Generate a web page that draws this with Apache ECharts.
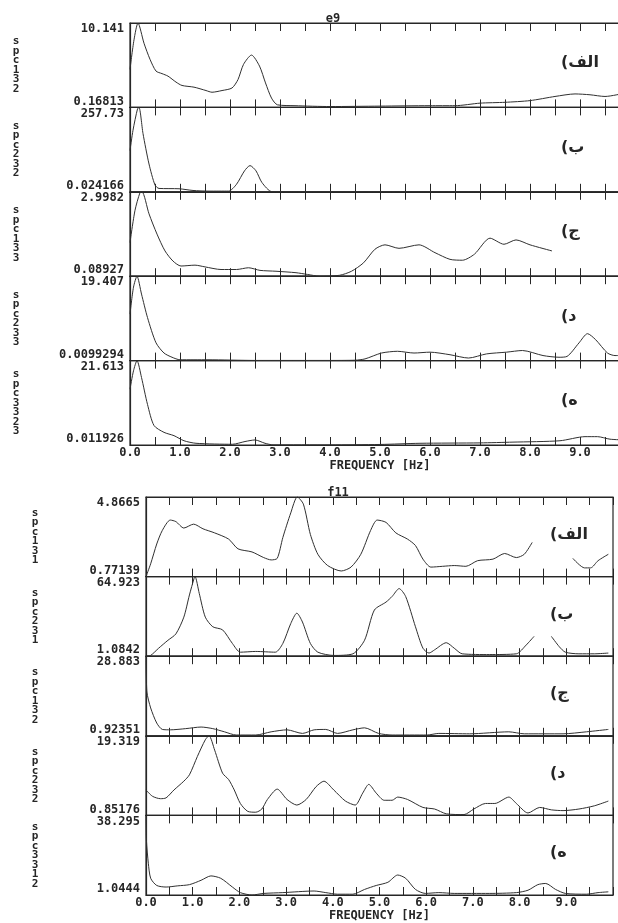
<!DOCTYPE html>
<html>
<head>
<meta charset="utf-8">
<script src="https://cdn.jsdelivr.net/npm/echarts@6/dist/echarts.min.js"></script>
<style>
  html, body { margin: 0; padding: 0; background: #fff; }
  #main { width: 618px; height: 923px; }
</style>
</head>
<body>
<div id="main"></div>
<script>
// group titles and panel texts
var groupTitles = ['e9', 'f11'];
var namesE9 = ['spc132', 'spc232', 'spc133', 'spc233', 'spc3323'];
var namesF11 = ['spc131', 'spc231', 'spc132', 'spc232', 'spc3312'];
var panelTags = ['(الف', '(ب', '(ج', '(د', '(ه'];
var xAxisName = 'FREQUENCY [Hz]';
var xTickLabels = ['0.0', '1.0', '2.0', '3.0', '4.0', '5.0', '6.0', '7.0', '8.0', '9.0'];

// y axis min / max labels, as printed
var yMaxE9 = ['10.141', '257.73', '2.9982', '19.407', '21.613'];
var yMinE9 = ['0.16813', '0.024166', '0.08927', '0.0099294', '0.011926'];
var yMaxF11 = ['4.8665', '64.923', '28.883', '19.319', '38.295'];
var yMinF11 = ['0.77139', '1.0842', '0.92351', '0.85176', '1.0444'];

// spectra, [frequency Hz, value]
var e9Spc132 = [[0,4.66],[0.08,8.15],[0.16,10.14],[0.28,7.75],[0.4,5.85],[0.52,4.46],[0.64,4.16],[0.76,3.86],[0.92,3.16],[1.04,2.76],[1.28,2.56],[1.52,2.16],[1.64,1.96],[1.84,2.16],[2.04,2.46],[2.16,3.46],[2.27,5.25],[2.43,6.35],[2.59,5.05],[2.71,3.06],[2.83,1.27],[2.95,0.47],[3.3,0.37],[4.0,0.27],[5.0,0.32],[6.0,0.37],[6.5,0.37],[7.0,0.67],[7.5,0.77],[8.0,0.97],[8.5,1.46],[8.9,1.76],[9.2,1.66],[9.5,1.46],[9.9,1.86]];
var e9Spc232 = [[0,126],[0.06,188],[0.15,253],[0.18,257.7],[0.26,178],[0.38,85],[0.5,20.6],[0.58,10.3],[0.98,9.3],[1.26,4.1],[1.58,2.1],[1.97,2.1],[2.13,23],[2.29,64],[2.4,80],[2.52,64],[2.64,28],[2.84,0.5],[3.5,0.1],[5.0,0.3],[6.0,0.2],[7.0,0.2],[8.0,0.5],[9.0,0.5],[9.9,0.4]];
var e9Spc133 = [[0,1.25],[0.1,2.36],[0.2,2.97],[0.24,3.0],[0.38,2.24],[0.54,1.54],[0.7,0.96],[0.86,0.61],[1.02,0.44],[1.3,0.47],[1.5,0.41],[1.82,0.32],[2.13,0.32],[2.37,0.38],[2.6,0.29],[2.92,0.26],[3.32,0.21],[3.55,0.15],[3.79,0.09],[4.19,0.12],[4.43,0.26],[4.67,0.55],[4.9,1.02],[5.1,1.17],[5.38,1.05],[5.78,1.17],[6.1,0.9],[6.4,0.67],[6.65,0.64],[6.89,0.85],[7.2,1.4],[7.48,1.19],[7.72,1.34],[8.0,1.17],[8.44,0.96]];
var e9Spc233 = [[0,10.7],[0.07,16.9],[0.14,19.4],[0.23,15.3],[0.35,9.9],[0.52,4.1],[0.68,1.75],[0.84,0.78],[1.0,0.2],[1.56,0.2],[2.5,0.05],[4.0,0.05],[4.5,0.1],[4.7,0.4],[5.03,1.75],[5.35,2.15],[5.68,1.75],[6.0,1.95],[6.4,1.36],[6.77,0.6],[7.13,1.55],[7.53,1.95],[7.85,2.33],[8.26,1.17],[8.58,0.78],[8.74,0.97],[8.98,4.08],[9.15,6.2],[9.31,4.85],[9.55,1.75],[9.7,1.17],[9.9,1.17]];
var e9Spc3323 = [[0,14.3],[0.07,19.0],[0.14,21.6],[0.23,17.3],[0.35,10.4],[0.48,5.0],[0.68,3.25],[0.88,2.4],[1.08,1.1],[1.32,0.45],[2.05,0.2],[2.3,0.9],[2.5,1.3],[2.7,0.45],[2.86,0.05],[4.0,0.05],[5.0,0.15],[5.8,0.45],[7.0,0.55],[7.66,0.75],[8.6,1.1],[9.1,2.15],[9.35,2.15],[9.6,1.5],[9.9,1.3]];

var f11Spc131 = [[0,0.77],[0.1,1.43],[0.23,2.45],[0.35,3.15],[0.52,3.68],[0.64,3.6],[0.81,3.27],[1.02,3.47],[1.22,3.23],[1.47,3.02],[1.77,2.7],[1.97,2.2],[2.27,2.04],[2.52,1.75],[2.68,1.63],[2.81,1.71],[2.93,2.78],[3.1,4.05],[3.24,4.87],[3.37,4.5],[3.52,2.94],[3.68,1.92],[3.89,1.34],[4.18,1.06],[4.39,1.26],[4.6,1.92],[4.81,3.15],[4.95,3.68],[5.14,3.56],[5.35,3.02],[5.6,2.7],[5.77,2.37],[5.93,1.67],[6.1,1.26],[6.35,1.3],[6.6,1.34],[6.85,1.3],[7.1,1.59],[7.43,1.67],[7.68,1.96],[7.93,1.75],[8.1,1.92],[8.27,2.53],[8.7,null],[9.14,1.71],[9.39,1.22],[9.52,1.22],[9.68,1.59],[9.9,1.92]];
var f11Spc231 = [[0,1.08],[0.1,1.72],[0.27,7.47],[0.47,13.85],[0.64,18.96],[0.81,32.4],[0.93,50.2],[1.03,63.6],[1.05,64.9],[1.14,51.5],[1.27,32.4],[1.43,24.7],[1.64,22.2],[1.85,11.3],[2.02,4.3],[2.35,4.9],[2.77,4.3],[2.93,11.3],[3.1,27.3],[3.23,35.6],[3.35,28.5],[3.52,11.3],[3.68,4.3],[4.02,1.7],[4.43,3.0],[4.68,13.9],[4.89,38.1],[5.14,44.5],[5.27,49.0],[5.42,55.3],[5.56,49.0],[5.77,24.7],[5.93,7.5],[6.06,3.6],[6.18,6.2],[6.43,11.9],[6.6,7.5],[6.77,3.0],[7.35,2.4],[7.93,3.0],[8.14,10.0],[8.31,17.0],[8.5,null],[8.68,17.0],[8.85,8.7],[8.98,4.3],[9.27,3.0],[9.6,3.0],[9.9,3.6]];
var f11Spc132 = [[0,28.88],[0.02,16.3],[0.1,10.7],[0.23,5.4],[0.35,3.16],[0.52,3.02],[0.85,3.44],[1.18,4.0],[1.43,3.44],[1.68,2.32],[1.93,1.2],[2.35,1.2],[2.68,2.32],[3.02,3.02],[3.35,1.76],[3.6,3.02],[3.85,3.16],[4.1,1.76],[4.43,3.02],[4.68,3.72],[4.98,1.76],[5.27,1.2],[6.02,1.2],[6.27,1.76],[6.93,1.62],[7.77,2.32],[8.1,1.62],[8.93,1.62],[9.43,2.32],[9.9,3.16]];
var f11Spc232 = [[0,6.76],[0.14,5.28],[0.31,4.73],[0.43,4.92],[0.6,6.76],[0.81,8.79],[0.93,10.27],[1.1,14.52],[1.27,18.4],[1.35,19.32],[1.47,16.0],[1.64,10.64],[1.77,9.16],[1.89,6.76],[2.02,3.62],[2.18,1.78],[2.35,1.59],[2.48,2.33],[2.6,4.55],[2.81,6.95],[3.02,4.55],[3.23,3.25],[3.43,4.55],[3.64,7.5],[3.81,8.79],[4.02,6.76],[4.27,4.18],[4.48,3.25],[4.64,6.02],[4.77,8.05],[4.93,6.02],[5.1,4.36],[5.27,4.36],[5.39,5.1],[5.6,4.55],[5.93,2.7],[6.18,2.33],[6.43,1.22],[6.81,1.04],[7.02,2.33],[7.27,3.62],[7.47,3.62],[7.77,5.1],[7.93,3.62],[8.18,1.41],[8.43,2.7],[8.68,2.14],[8.93,1.96],[9.27,2.33],[9.6,3.07],[9.9,4.18]];
var f11Spc3312 = [[0,38.3],[0.01,26.4],[0.05,15.9],[0.1,8.87],[0.23,5.5],[0.43,4.77],[0.68,5.33],[0.93,5.89],[1.18,7.94],[1.39,9.98],[1.6,8.87],[1.85,4.77],[2.02,2.16],[2.27,1.04],[2.52,1.79],[2.93,2.16],[3.6,2.91],[3.85,2.16],[4.1,1.42],[4.43,1.42],[4.68,3.65],[4.93,5.5],[5.18,7.0],[5.39,10.4],[5.56,8.87],[5.77,3.65],[5.98,1.79],[6.27,2.16],[6.6,1.79],[7.35,1.79],[7.93,2.16],[8.18,3.28],[8.39,5.89],[8.56,6.44],[8.77,3.65],[8.98,1.79],[9.43,1.42],[9.68,2.16],[9.9,2.53]];

var groups = [
  { title: groupTitles[0], names: namesE9, maxL: yMaxE9, minL: yMinE9,
    data: [e9Spc132, e9Spc232, e9Spc133, e9Spc233, e9Spc3323],
    left: 130, width: 500, top: 23, h: 84.4, nameX: 16, tagX: 561, titleX: 328, freqGap: 12 },
  { title: groupTitles[1], names: namesF11, maxL: yMaxF11, minL: yMinF11,
    data: [f11Spc131, f11Spc231, f11Spc132, f11Spc232, f11Spc3312],
    left: 146, width: 467, top: 497, h: 79.6, nameX: 35, tagX: 550, titleX: 333, freqGap: 15 }
];

var INK = '#262626';
var MONO = 'DejaVu Sans Mono';

var option = {
  animation: false,
  backgroundColor: '#fff',
  title: [],
  grid: [],
  xAxis: [],
  yAxis: [],
  series: [],
  graphic: []
};

groups.forEach(function (g, gi) {
  option.title.push({
    text: g.title,
    left: g.titleX,
    top: g.top - 15,
    textAlign: 'center',
    textStyle: { fontFamily: MONO, fontWeight: 'bold', fontSize: 12, color: INK }
  });
  for (var i = 0; i < 5; i++) {
    var idx = option.grid.length;
    var last = i === 4;
    var yMin = parseFloat(g.minL[i]);
    var yMax = parseFloat(g.maxL[i]);
    var top = g.top + i * g.h;
    option.grid.push({
      left: g.left, top: top, width: g.width, height: g.h,
      outerBoundsMode: 'none', containLabel: false,
      show: true, borderColor: INK, borderWidth: 1.2, backgroundColor: 'transparent'
    });
    // bottom axis, ticks pointing up
    option.xAxis.push({
      type: 'value', gridIndex: idx, min: 0, max: 10, interval: 0.5,
      position: 'bottom',
      name: last ? xAxisName : '',
      nameLocation: 'middle',
      nameGap: g.freqGap,
      nameTextStyle: { fontFamily: MONO, fontWeight: 'bold', fontSize: 12, color: INK, verticalAlign: 'top' },
      axisLine: { show: true, lineStyle: { color: INK, width: 1.2 } },
      axisTick: { show: true, inside: true, length: 8, lineStyle: { color: INK, width: 1 } },
      splitLine: { show: false },
      axisLabel: {
        show: last, margin: 2,
        fontFamily: MONO, fontWeight: 'bold', fontSize: 12, color: INK,
        formatter: function (v) {
          return (Number.isInteger(v) && v < 10) ? xTickLabels[v] : '';
        }
      }
    });
    // top axis, ticks pointing down
    option.xAxis.push({
      type: 'value', gridIndex: idx, min: 0, max: 10, interval: 0.5,
      position: 'top',
      axisLine: { show: true, lineStyle: { color: INK, width: 1.2 } },
      axisTick: { show: true, inside: true, length: 8, lineStyle: { color: INK, width: 1 } },
      splitLine: { show: false },
      axisLabel: { show: false }
    });
    option.yAxis.push({
      type: 'value', gridIndex: idx, min: yMin, max: yMax,
      name: g.names[i].split('').join('\n'),
      nameLocation: 'middle',
      nameRotate: 0,
      nameGap: g.left - g.nameX,
      nameTextStyle: { fontFamily: MONO, fontWeight: 'bold', fontSize: 11, lineHeight: 9.5, color: INK, align: 'center', verticalAlign: 'middle' },
      axisLine: { show: true, lineStyle: { color: INK, width: 1.2 } },
      axisTick: { show: false },
      splitLine: { show: false },
      axisLabel: {
        show: true, margin: 6,
        customValues: [yMin, yMax],
        showMinLabel: true, showMaxLabel: true,
        verticalAlignMinLabel: 'bottom', verticalAlignMaxLabel: 'top',
        fontFamily: MONO, fontWeight: 'bold', fontSize: 12, color: INK,
        formatter: (function (lo, hi, a) {
          return function (v) { return Math.abs(v - a) < 1e-12 ? lo : hi; };
        })(g.minL[i], g.maxL[i], yMin)
      }
    });
    option.series.push({
      type: 'line',
      xAxisIndex: idx * 2,
      yAxisIndex: idx,
      data: g.data[i],
      showSymbol: false,
      smooth: 0.25,
      connectNulls: false,
      silent: true,
      lineStyle: { color: '#303030', width: 1 }
    });
    option.graphic.push({
      type: 'text',
      left: g.tagX,
      top: top + g.h / 2 - 10,
      silent: true,
      style: {
        text: panelTags[i],
        font: 'bold 16px "DejaVu Sans"',
        fill: INK
      }
    });
  }
});

var chart = echarts.init(document.getElementById('main'), null, { renderer: 'canvas' });
chart.setOption(option);
</script>
</body>
</html>
